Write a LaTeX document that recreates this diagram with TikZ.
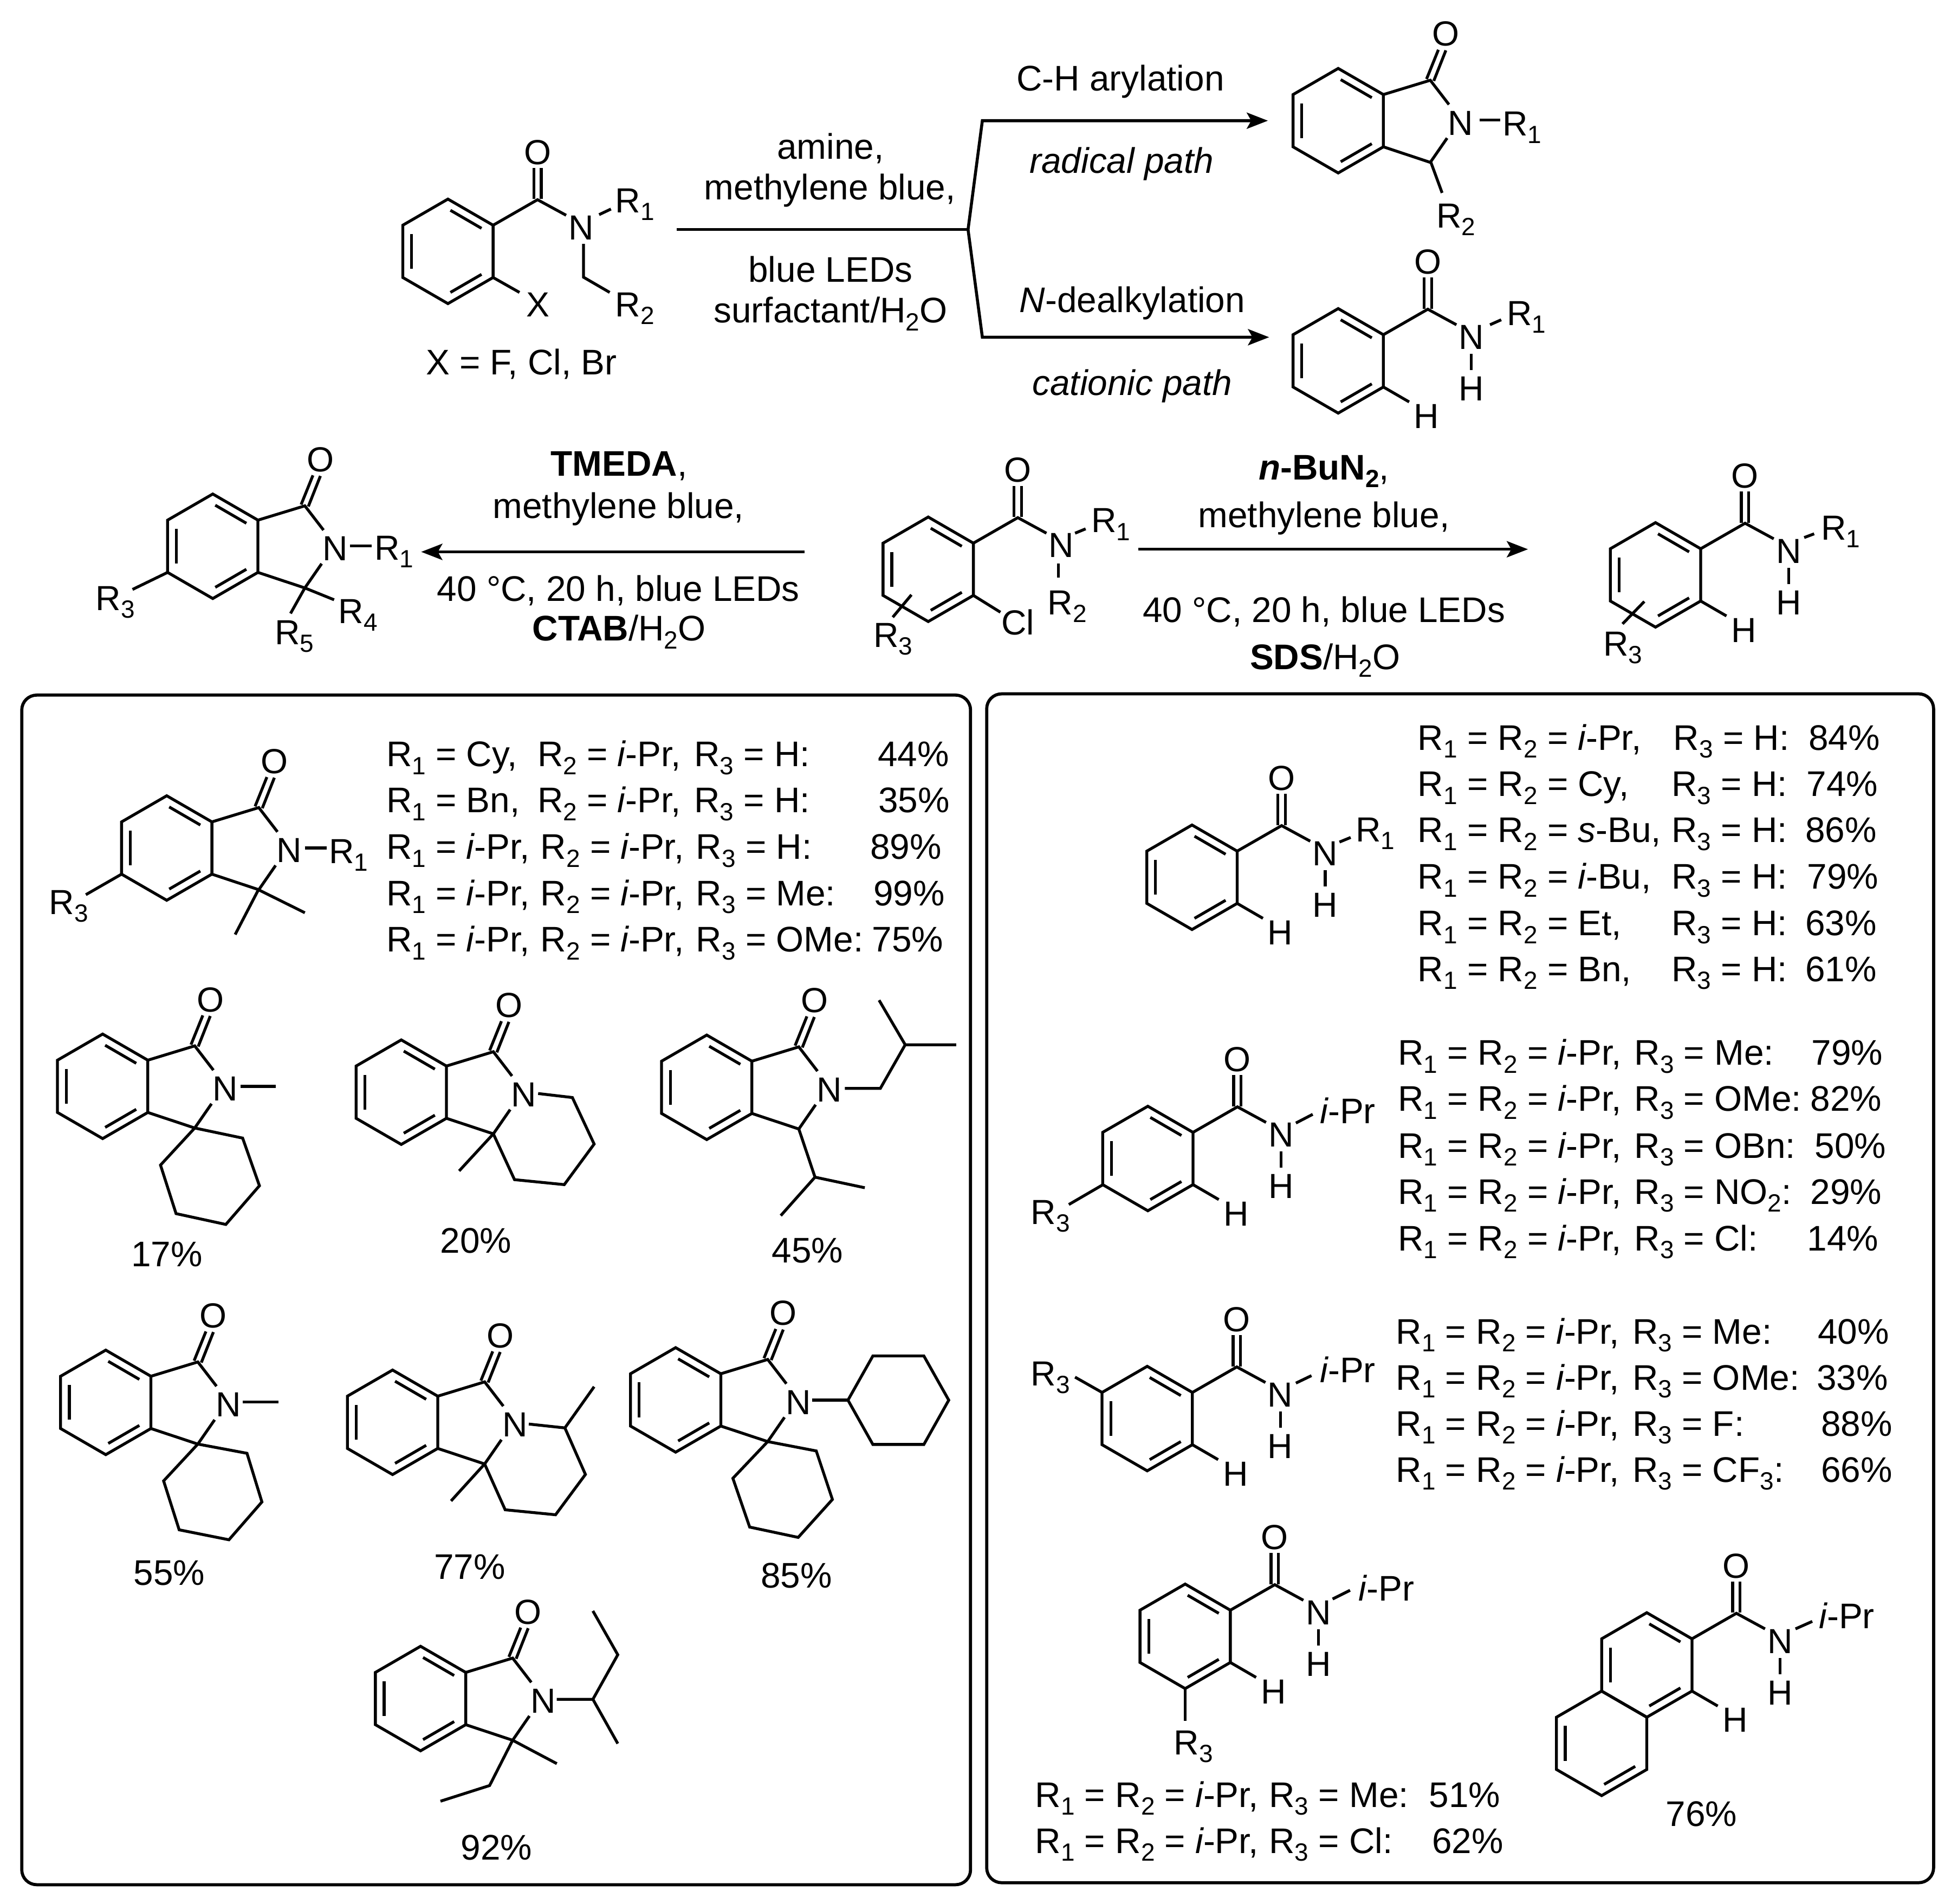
\documentclass[tikz,border=0pt]{standalone}
\usepackage{fontspec}
\setmainfont{Liberation Sans}
\usetikzlibrary{arrows.meta}
\tikzset{
  bond/.style={line width=1.15pt,line join=miter,line cap=butt},
  frame/.style={line width=1.25pt,rounded corners=6pt},
  rxn/.style={line width=1.2pt,-{Stealth[length=8.5pt,width=6.5pt,inset=1.8pt]}},
  rxnline/.style={line width=1.2pt},
  txt/.style={inner sep=0pt,outer sep=0pt,font=\fontsize{14.3}{16}\selectfont},
  atm/.style={inner sep=0pt,outer sep=0pt,font=\fontsize{14}{16}\selectfont},
}
\newcounter{nn}
\newcommand\Sbs[1]{\raisebox{-0.22em}{\fontsize{10}{10}\selectfont #1}}
\newcommand\RRa{R\Sbs{1}}
\newcommand\RRb{R\Sbs{2}}
\newcommand\RRc{R\Sbs{3}}
\newcommand\iPr{{\itshape i}-Pr}
% left aligned text, baseline
\newcommand\Lb[3]{\stepcounter{nn}\node[txt,anchor=base west] (n\arabic{nn}) at (#1-0.5,#2+1) {#3};}
% centred text, baseline
\newcommand\Cb[3]{\stepcounter{nn}\node[txt,anchor=base] (n\arabic{nn}) at (#1,#2+1) {#3};}
% atom centred on its cap height
\newcommand\At[3]{\stepcounter{nn}\node[atm,anchor=base] (n\arabic{nn}) at (#1,#2+10) {#3};}
% left aligned atom label, vertical centre of the letter given
\newcommand\RL[3]{\stepcounter{nn}\node[atm,anchor=base west] (n\arabic{nn}) at (#1-0.5,#2+10) {#3};}
\newcommand\ringbare{\draw[bond] (0,-42)--(36.3,-21)--(36.3,21)--(0,42)--(-36.3,21)--(-36.3,-21)--cycle;
  \draw[bond] (-29.3,-14)--(-29.3,14);
  \draw[bond] (2,33)--(27,18.5);}
\newcommand\ringfull{\ringbare\draw[bond] (2,-33)--(27,-18.5);}
% isoindolinone core
\newcommand\isoT[2]{\begin{scope}[shift={(#1,#2)}]
  \ringfull
  \draw[bond] (36.3,-21)--(74,-32.5)--(89,-13);
  \draw[bond] (36.3,21)--(74,33.5)--(87.5,14);
  \draw[bond] (71,-33.5)--(80.5,-57);
  \draw[bond] (76.8,-32)--(86.5,-56.5);
  \At{86.5}{-70}{O}
  \At{98.5}{1.5}{N}
\end{scope}}
% benzamide core
\newcommand\amd[2]{\begin{scope}[shift={(#1,#2)}]
  \ringfull
  \draw[bond] (36.3,-21)--(72,-41.5)--(95,-29);
  \draw[bond] (69,-42)--(69,-67);
  \draw[bond] (75,-42)--(75,-67);
  \At{72}{-80}{O}
  \At{107}{-19.5}{N}
\end{scope}}
\newcommand\amdH[2]{\amd{#1}{#2}\begin{scope}[shift={(#1,#2)}]
  \draw[bond] (107,-5.5)--(107,7.4);
  \At{107}{22}{H}
  \draw[bond] (36.3,21)--(57,33);
  \At{71}{44}{H}
\end{scope}}
\begin{document}
\begin{tikzpicture}[x=0.5pt,y=-0.5pt]
\useasboundingbox (0,0) rectangle (1568,1529.7);
% ---------- frames
\draw[frame] (17.5,558.6) rectangle (780,1514.6);
\draw[frame] (793,557.6) rectangle (1554,1513);
% ---------- top substrate
\amd{360}{202}
\draw[bond] (481.5,172.5)--(491,168);
\RL{495}{161}{\RRa}
\draw[bond] (469,196)--(469,222.8)--(490,235);
\RL{495}{244.6}{\RRb}
\draw[bond] (396.3,223)--(417.5,235);
\At{432.5}{244.6}{X}
\Cb{419}{300}{X = F, Cl, Br}
% top arrows
\coordinate (as) at (544,184.5);
\coordinate (aj) at (778,184.5);
\coordinate (au) at (789.5,97);
\coordinate (ad) at (789.5,271);
\coordinate (aue) at (1019,97);
\coordinate (ade) at (1020,271);
\draw[rxnline] (as)--(aj);
\draw[rxn] (aj)--(au)--(aue);
\draw[rxn] (aj)--(ad)--(ade);
\Cb{667.5}{127}{amine,}
\Cb{667}{159.6}{methylene blue,}
\Cb{667.5}{225.5}{blue LEDs}
\Cb{667.5}{258.5}{surfactant/H\Sbs{2}O}
\Cb{900.5}{72}{C-H arylation}
\Cb{901.5}{138}{\itshape radical path}
\Cb{910}{250}{{\itshape N}-dealkylation}
\Cb{910}{316.5}{\itshape cationic path}
% product 1
\isoT{1075.5}{97}
\draw[bond] (1189,96.5)--(1205.5,96.5);
\RL{1208}{99}{\RRa}
\draw[bond] (1150,130.5)--(1159,155);
\RL{1155}{173}{\RRb}
% product 2
\amdH{1075.5}{290}
\draw[bond] (1197.5,261)--(1206.5,257);
\RL{1211.5}{251.6}{\RRa}
% ---------- row two, left product
\isoT{171}{439}
\draw[bond] (281.5,438.6)--(298.5,438.6);
\RL{301.5}{440}{\RRa}
\draw[bond] (245,472.5)--(268.5,482);
\RL{272.5}{491}{R\Sbs{4}}
\draw[bond] (245,472.5)--(233.5,493);
\RL{221.5}{508}{R\Sbs{5}}
\draw[bond] (134.7,460)--(106.5,473.7);
\RL{77.5}{480.6}{\RRc}
\coordinate (bs) at (646.5,443.5);
\coordinate (be) at (338.5,443.5);
\draw[rxn] (bs)--(be);
\Cb{497.5}{381.7}{{\bfseries TMEDA},}
\Cb{497}{415.7}{methylene blue,}
\Cb{497}{482}{40 °C, 20 h, blue LEDs}
\Cb{497.5}{514}{{\bfseries CTAB}/H\Sbs{2}O}
% centre substrate
\amd{746}{457.5}
\draw[bond] (864,428.5)--(872.5,425);
\RL{877.5}{418}{\RRa}
\draw[bond] (850.5,453)--(850.5,464);
\RL{842.5}{484}{\RRb}
\draw[bond] (782.3,478.5)--(804,492);
\At{818}{500}{Cl}
\draw[bond] (732.5,478)--(717.5,496);
\RL{702.5}{510}{\RRc}
\coordinate (cs) at (915,441.4);
\coordinate (ce) at (1228,441.4);
\draw[rxn] (cs)--(ce);
\Cb{1064}{384.5}{{\bfseries\itshape n}{\bfseries -BuN\Sbs{2}},}
\Cb{1064}{423}{methylene blue,}
\Cb{1064}{499}{40 °C, 20 h, blue LEDs}
\Cb{1065}{537}{{\bfseries SDS}/H\Sbs{2}O}
% right product
\amdH{1330.5}{462}
\draw[bond] (1450,432)--(1458,429);
\RL{1464}{424}{\RRa}
\draw[bond] (1321.5,483.4)--(1304,501.4);
\RL{1289}{517}{\RRc}
% ---------- left panel
\isoT{134}{681.5}
\draw[bond] (245,681.5)--(262.5,681.5);
\RL{265}{683.7}{\RRa}
\draw[bond] (207.7,715)--(245,733.5);
\draw[bond] (207.7,715)--(189,751);
\draw[bond] (97.7,702.5)--(69,719);
\RL{40}{724.6}{\RRc}
\Lb{311}{615}{\RRa{} = Cy,}
\Lb{432.5}{615}{\RRb{} = \iPr,}
\Lb{558.5}{615}{\RRc{} = H:}
\Lb{706}{615}{44\%}
\Lb{311}{652}{\RRa{} = Bn,}
\Lb{432.5}{652}{\RRb{} = \iPr,}
\Lb{558.5}{652}{\RRc{} = H:}
\Lb{706.5}{652}{35\%}
\Lb{311}{689.5}{\RRa{} = \iPr,}
\Lb{435}{689.5}{\RRb{} = \iPr,}
\Lb{560}{689.5}{\RRc{} = H:}
\Lb{700}{689.5}{89\%}
\Lb{311}{726.8}{\RRa{} = \iPr,}
\Lb{435}{726.8}{\RRb{} = \iPr,}
\Lb{560}{726.8}{\RRc{} = Me:}
\Lb{702.5}{726.8}{99\%}
\Lb{311}{764}{\RRa{} = \iPr,}
\Lb{435}{764}{\RRb{} = \iPr,}
\Lb{560}{764}{\RRc{} = OMe:}
\Lb{701.5}{764}{75\%}
% 17 %
\isoT{82.5}{873}
\draw[bond] (193.5,873)--(221.5,873);
\draw[bond] (156.5,906.5)--(195,914.6)--(208.5,952.9)--(181.5,984)--(141.5,975.3)--(129,936.3)--(156.5,906.5);
\Cb{134}{1016.8}{17\%}
% 20 %
\isoT{322.5}{877.7}
\draw[bond] (432.5,878.8)--(460,882)--(477.5,919.4)--(453.5,952)--(413.5,948)--(396.5,911.2);
\draw[bond] (396.5,911.2)--(369,941);
\Cb{382.5}{1006}{20\%}
% 45 %
\isoT{568}{873.8}
\draw[bond] (679,874.7)--(707.5,874.7)--(727.5,839.6)--(768.5,839.6);
\draw[bond] (727.5,839.6)--(706.5,803.8);
\draw[bond] (642,907.3)--(655,946)--(695,954.5);
\draw[bond] (655,946)--(627.5,976.9);
\Cb{649}{1013.6}{45\%}
% 55 %
\isoT{85}{1127}
\draw[bond] (195,1126.8)--(224,1126.8);
\draw[bond] (159,1160.5)--(198.5,1167.9)--(210.5,1207)--(184,1237.4)--(144,1229.4)--(131.5,1190.1)--(159,1160.5);
\Cb{136}{1273}{55\%}
% 77 %
\isoT{315.5}{1143}
\draw[bond] (425,1144.4)--(454,1147.5)--(470.5,1184.9)--(446.5,1217.3)--(406,1213.3)--(389.5,1176.5);
\draw[bond] (454,1147.5)--(477.5,1114.4);
\draw[bond] (389.5,1176.5)--(362.5,1206.2);
\Cb{377.5}{1268}{77\%}
% 85 %
\isoT{543}{1125}
\draw[bond] (652.5,1125.2)--(681.5,1125.2);
\draw[bond] (681.5,1125.2)--(701.5,1089.7)--(742.5,1089.7)--(762.5,1125.2)--(742.5,1160.8)--(701.5,1160.8)--cycle;
\draw[bond] (617,1158.5)--(656,1166)--(669,1205)--(641.5,1235.5)--(602.5,1227.2)--(589,1188)--(617,1158.5);
\Cb{640}{1275}{85\%}
% 92 %
\isoT{338}{1365}
\draw[bond] (447.5,1365.6)--(476.5,1365.6)--(496.5,1329.8)--(476.5,1294.6);
\draw[bond] (476.5,1365.6)--(496.5,1401.2);
\draw[bond] (412,1398.5)--(447.5,1417.3);
\draw[bond] (412,1398.5)--(393.5,1434.9)--(354,1447.5);
\Cb{399}{1493.6}{92\%}
% ---------- right panel
\amdH{958}{705}
\draw[bond] (1076.5,676.7)--(1085.5,673);
\RL{1090}{666.5}{\RRa}
\Lb{1140}{601.7}{\RRa{} = \RRb{} = \iPr,}
\Lb{1345.5}{601.7}{\RRc{} = H:}
\Lb{1454}{601.7}{84\%}
\Lb{1140}{639}{\RRa{} = \RRb{} = Cy,}
\Lb{1344}{639}{\RRc{} = H:}
\Lb{1452.5}{639}{74\%}
\Lb{1140}{676}{\RRa{} = \RRb{} = {\itshape s}-Bu,}
\Lb{1344}{676}{\RRc{} = H:}
\Lb{1451.5}{676}{86\%}
\Lb{1140}{713.4}{\RRa{} = \RRb{} = {\itshape i}-Bu,}
\Lb{1344}{713.4}{\RRc{} = H:}
\Lb{1453}{713.4}{79\%}
\Lb{1140}{750.8}{\RRa{} = \RRb{} = Et,}
\Lb{1344}{750.8}{\RRc{} = H:}
\Lb{1451.5}{750.8}{63\%}
\Lb{1140}{787.8}{\RRa{} = \RRb{} = Bn,}
\Lb{1344}{787.8}{\RRc{} = H:}
\Lb{1451.5}{787.8}{61\%}
% second
\amdH{922.5}{931}
\draw[bond] (1041.5,902.5)--(1055,895.5);
\Lb{1061.5}{901.8}{\iPr}
\draw[bond] (886.5,952)--(859,968);
\RL{829}{974}{\RRc}
\Lb{1124}{854.9}{\RRa{} = \RRb{} = \iPr,}
\Lb{1314}{854.9}{\RRc{} = Me:}
\Lb{1456.5}{854.9}{79\%}
\Lb{1124}{892}{\RRa{} = \RRb{} = \iPr,}
\Lb{1314}{892}{\RRc{} = OMe:}
\Lb{1455.5}{892}{82\%}
\Lb{1124}{929.6}{\RRa{} = \RRb{} = \iPr,}
\Lb{1314}{929.6}{\RRc{} = OBn:}
\Lb{1459}{929.6}{50\%}
\Lb{1124}{966.6}{\RRa{} = \RRb{} = \iPr,}
\Lb{1314}{966.6}{\RRc{} = NO\Sbs{2}:}
\Lb{1455.5}{966.6}{29\%}
\Lb{1124}{1004}{\RRa{} = \RRb{} = \iPr,}
\Lb{1314}{1004}{\RRc{} = Cl:}
\Lb{1453}{1004}{14\%}
% third
\amdH{922}{1140}
\draw[bond] (1041.5,1111.5)--(1054,1105.5);
\Lb{1061.5}{1109.8}{\iPr}
\draw[bond] (885.7,1119)--(864,1106.7);
\RL{829}{1103.6}{\RRc}
\Lb{1122.5}{1078.9}{\RRa{} = \RRb{} = \iPr,}
\Lb{1312.5}{1078.9}{\RRc{} = Me:}
\Lb{1461.5}{1078.9}{40\%}
\Lb{1122.5}{1116}{\RRa{} = \RRb{} = \iPr,}
\Lb{1312.5}{1116}{\RRc{} = OMe:}
\Lb{1460.5}{1116}{33\%}
\Lb{1122.5}{1153}{\RRa{} = \RRb{} = \iPr,}
\Lb{1312.5}{1153}{\RRc{} = F:}
\Lb{1464}{1153}{88\%}
\Lb{1122.5}{1190}{\RRa{} = \RRb{} = \iPr,}
\Lb{1312.5}{1190}{\RRc{} = CF\Sbs{3}:}
\Lb{1464}{1190}{66\%}
% fourth
\amdH{952.5}{1315}
\draw[bond] (1071,1285)--(1085,1278);
\Lb{1092.5}{1285.3}{\iPr}
\draw[bond] (952.5,1357)--(952.5,1383);
\RL{944}{1400}{\RRc}
\Lb{832.5}{1451.3}{\RRa{} = \RRb{} = \iPr,}
\Lb{1020.5}{1451.3}{\RRc{} = Me:}
\Lb{1149}{1451.3}{51\%}
\Lb{832.5}{1488.3}{\RRa{} = \RRb{} = \iPr,}
\Lb{1020.5}{1488.3}{\RRc{} = Cl:}
\Lb{1151.5}{1488.3}{62\%}
% naphthalene
\amdH{1323.5}{1338}
\begin{scope}[shift={(1287.2,1401)}]\ringbare\end{scope}
\draw[bond] (1443,1309)--(1456.5,1303);
\Lb{1462.5}{1307.6}{\iPr}
\Cb{1367.5}{1466.7}{76\%}
\end{tikzpicture}
\end{document}
